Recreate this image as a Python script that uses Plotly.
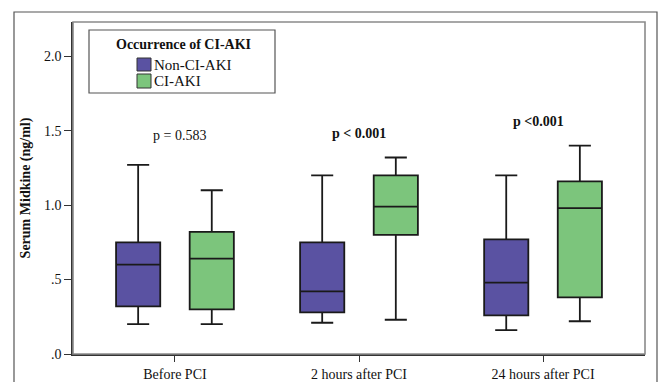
import plotly.graph_objects as go

categories = ["Before PCI", "2 hours after PCI", "24 hours after PCI"]

non_q1 = [0.32, 0.28, 0.26]
non_med = [0.60, 0.42, 0.48]
non_q3 = [0.75, 0.75, 0.77]
non_lo = [0.20, 0.21, 0.16]
non_hi = [1.27, 1.20, 1.20]

aki_q1 = [0.30, 0.80, 0.38]
aki_med = [0.64, 0.99, 0.98]
aki_q3 = [0.82, 1.20, 1.16]
aki_lo = [0.20, 0.23, 0.22]
aki_hi = [1.10, 1.32, 1.40]

p_labels = ["p = 0.583", "<b>p < 0.001</b>", "<b>p <0.001</b>"]
p_y = [1.47, 1.48, 1.56]
p_dx = [5, 0, -5]

y_tickvals = [0, 0.5, 1.0, 1.5, 2.0]
y_ticktext = [".0", ".5", "1.0", "1.5", "2.0"]

purple = "#5A52A2"
green = "#7CC57C"
font = "Liberation Serif, Times New Roman, serif"

fig = go.Figure()
fig.add_trace(go.Box(
    name="Non-CI-AKI", x=categories, q1=non_q1, median=non_med, q3=non_q3,
    lowerfence=non_lo, upperfence=non_hi, fillcolor=purple,
    line=dict(color="#1a1a1a", width=1.8), whiskerwidth=0.5, showlegend=False,
    boxpoints=False))
fig.add_trace(go.Box(
    name="CI-AKI", x=categories, q1=aki_q1, median=aki_med, q3=aki_q3,
    lowerfence=aki_lo, upperfence=aki_hi, fillcolor=green,
    line=dict(color="#1a1a1a", width=1.8), whiskerwidth=0.5, showlegend=False,
    boxpoints=False))

for c, t, yv, dx in zip(categories, p_labels, p_y, p_dx):
    fig.add_annotation(x=c, y=yv, text=t, showarrow=False, xshift=dx,
                       font=dict(family=font, size=14, color="#111"))

# plot-area pixel helpers
L, R, T, B = 73, 645, 22, 354
def px(x):
    return (x - L) / (R - L)
def py(y):
    return (B - y) / (B - T)

shapes = []
shapes.append(dict(type="rect", xref="paper", yref="paper", x0=px(14), x1=px(657),
                   y0=py(395), y1=py(12), line=dict(color="#555", width=1.2)))
shapes.append(dict(type="rect", xref="paper", yref="paper", x0=0, x1=1, y0=0, y1=1,
                   line=dict(color="#8a8a8a", width=1.6)))
shapes.append(dict(type="rect", xref="paper", yref="paper", x0=px(89), x1=px(275),
                   y0=py(93), y1=py(30), line=dict(color="#555", width=1.2),
                   fillcolor="white"))
shapes.append(dict(type="rect", xref="paper", yref="paper", x0=px(137), x1=px(151),
                   y0=py(71), y1=py(58), line=dict(color="#333", width=1), fillcolor=purple))
shapes.append(dict(type="rect", xref="paper", yref="paper", x0=px(137), x1=px(151),
                   y0=py(88), y1=py(74), line=dict(color="#333", width=1), fillcolor=green))
fig.update_layout(shapes=shapes)

fig.add_annotation(xref="paper", yref="paper", x=px(183), y=py(44), text="<b>Occurrence of CI-AKI</b>",
                   xanchor="center", yanchor="middle",
                   showarrow=False, font=dict(family=font, size=14, color="#111"))
fig.add_annotation(xref="paper", yref="paper", x=px(152), y=py(65), text="Non-CI-AKI",
                   xanchor="left", yanchor="middle", showarrow=False,
                   font=dict(family=font, size=15, color="#111"))
fig.add_annotation(xref="paper", yref="paper", x=px(152), y=py(81), text="CI-AKI",
                   xanchor="left", yanchor="middle", showarrow=False,
                   font=dict(family=font, size=15, color="#111"))

fig.update_layout(
    width=662, height=382,
    margin=dict(l=L, r=662 - R, t=T, b=382 - B, autoexpand=False),
    paper_bgcolor="white", plot_bgcolor="white",
    boxmode="group", boxgap=0.2, boxgroupgap=0.4,
    font=dict(family=font, size=14, color="#111"),
    xaxis=dict(range=[-0.554, 2.554], showgrid=False, zeroline=False, automargin=False,
               ticks="outside", ticklen=6, tickcolor="#333", showline=True,
               linecolor="#333", linewidth=1.5, tickfont=dict(family=font, size=14)),
    yaxis=dict(range=[0, 2.23], tickvals=y_tickvals, ticktext=y_ticktext, automargin=False,
               showgrid=False, zeroline=False, ticks="outside", ticklen=7,
               tickcolor="#333", showline=True, linecolor="#333", linewidth=1.5,
               tickfont=dict(family=font, size=14),
               title=dict(text="<b>Serum Midkine (ng/ml)</b>", standoff=10,
                          font=dict(family=font, size=14))),
)

fig.write_html("out.html", config={"displayModeBar": False},
               post_script="document.body.style.margin='0';document.body.style.overflow='hidden';")
